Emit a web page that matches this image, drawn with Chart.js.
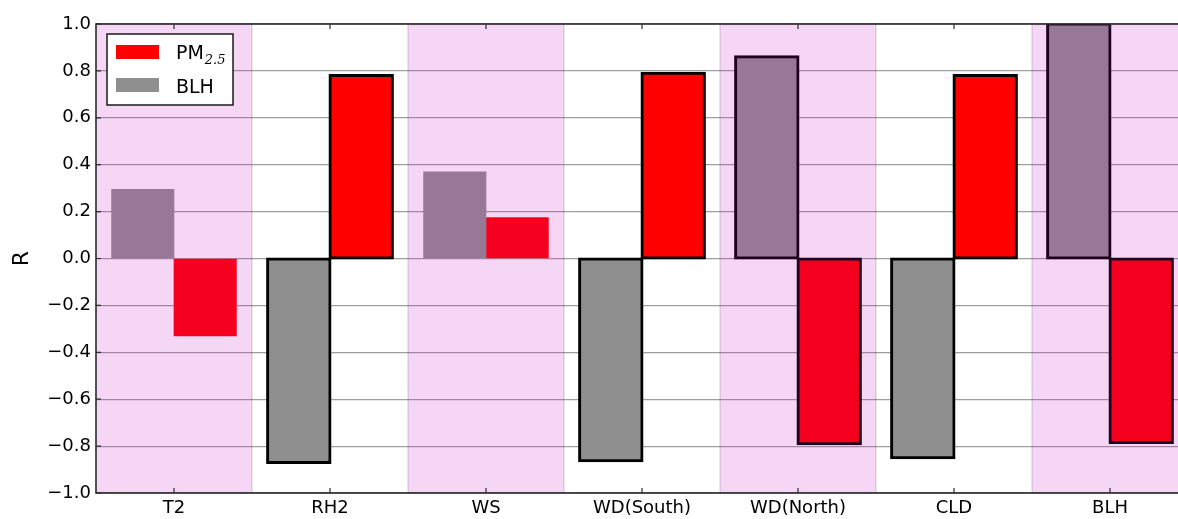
<!DOCTYPE html>
<html>
<head>
<meta charset="utf-8">
<script src="https://cdn.jsdelivr.net/npm/chart.js@4.4.1/dist/chart.umd.min.js"></script>
<style>
  html, body { margin: 0; padding: 0; background: #fff; overflow: hidden; }
  #wrap { width: 1188px; height: 519px; position: relative; }
</style>
</head>
<body>
<div id="wrap"><canvas id="chart"></canvas></div>
<script>
// Correlation coefficients (R) of each meteorological factor
const categories = ['T2', 'RH2', 'WS', 'WD(South)', 'WD(North)', 'CLD', 'BLH'];
const blhR = [0.295, -0.87, 0.37, -0.863, 0.86, -0.85, 1.0];
const pmR  = [-0.33, 0.78, 0.175, 0.79, -0.79, 0.78, -0.785];
const yTicks = [-1.0, -0.8, -0.6, -0.4, -0.2, 0.0, 0.2, 0.4, 0.6, 0.8, 1.0];

// Factors whose bars get a black outline, and factors with a shaded column
const outlined = ['RH2', 'WD(South)', 'WD(North)', 'CLD', 'BLH'];
const shaded = ['T2', 'WS', 'WD(North)', 'BLH'];

const FONT = 'DejaVu Sans';
const RED = '#ff0000';
const GREY = '#8f8f8f';

const isOutlined = ctx => outlined.includes(categories[ctx.dataIndex]);

function fmtTick(v) {
  const s = Math.abs(v).toFixed(1);
  return v < -1e-9 ? '\u2212' + s : s;
}

// Draws the shaded columns over the bars, the frame, inward ticks and the legend
const overlay = {
  id: 'overlay',
  afterDraw(chart) {
    const { ctx, chartArea: a, scales: { x, y } } = chart;
    const cw = (x.right - x.left) / categories.length;
    ctx.save();

    // translucent magenta columns
    ctx.fillStyle = 'rgba(200, 0, 190, 0.16)';
    categories.forEach((c, i) => {
      if (!shaded.includes(c)) return;
      const cx = x.getPixelForValue(i);
      ctx.fillRect(cx - cw / 2, a.top, cw, a.bottom - a.top);
    });
    // faint column edges
    ctx.strokeStyle = 'rgba(0, 0, 0, 0.13)';
    ctx.lineWidth = 1.5;
    for (let i = 1; i < categories.length; i++) {
      const ex = x.getPixelForValue(i) - cw / 2;
      ctx.beginPath();
      ctx.moveTo(ex, a.top);
      ctx.lineTo(ex, a.bottom);
      ctx.stroke();
    }

    // axes frame
    ctx.strokeStyle = '#2b2b2b';
    ctx.lineWidth = 1.6;
    ctx.strokeRect(a.left, a.top, a.right - a.left, a.bottom - a.top);

    // inward tick marks
    ctx.lineWidth = 1.2;
    categories.forEach((c, i) => {
      const px = x.getPixelForValue(i);
      ctx.beginPath();
      ctx.moveTo(px, a.top); ctx.lineTo(px, a.top + 5);
      ctx.moveTo(px, a.bottom); ctx.lineTo(px, a.bottom - 5);
      ctx.stroke();
    });
    yTicks.forEach(v => {
      const py = y.getPixelForValue(v);
      ctx.beginPath();
      ctx.moveTo(a.left, py); ctx.lineTo(a.left + 5, py);
      ctx.moveTo(a.right, py); ctx.lineTo(a.right - 5, py);
      ctx.stroke();
    });

    // legend
    const lx = a.left + 11, ly = a.top + 10, lw = 126, lh = 71;
    ctx.fillStyle = '#fff';
    ctx.fillRect(lx, ly, lw, lh);
    ctx.strokeStyle = '#1a1a1a';
    ctx.lineWidth = 1.5;
    ctx.strokeRect(lx, ly, lw, lh);

    ctx.fillStyle = RED;
    ctx.fillRect(lx + 9, ly + 11, 43, 14);
    ctx.fillStyle = GREY;
    ctx.fillRect(lx + 9, ly + 44, 43, 14);

    ctx.fillStyle = '#000';
    ctx.textBaseline = 'alphabetic';
    ctx.textAlign = 'left';
    ctx.font = `19px "${FONT}"`;
    ctx.fillText('PM', lx + 69, ly + 24.5);
    const pmW = ctx.measureText('PM').width;
    ctx.font = 'italic 13px "DejaVu Serif"';
    ctx.fillText('2.5', lx + 70 + pmW, ly + 29.5);
    ctx.font = `19px "${FONT}"`;
    ctx.fillText('BLH', lx + 69, ly + 58.5);

    ctx.restore();
  }
};

new Chart(document.getElementById('chart'), {
  type: 'bar',
  data: {
    labels: categories,
    datasets: [
      {
        label: 'BLH',
        data: blhR,
        backgroundColor: GREY,
        borderColor: '#000',
        borderWidth: ctx => isOutlined(ctx) ? 3 : 0,
        inflateAmount: ctx => isOutlined(ctx) ? 1.5 : 0.33,
        borderSkipped: false
      },
      {
        label: 'PM2.5',
        data: pmR,
        backgroundColor: RED,
        borderColor: '#000',
        borderWidth: ctx => isOutlined(ctx) ? 3 : 0,
        inflateAmount: ctx => isOutlined(ctx) ? 1.5 : 0.33,
        borderSkipped: false
      }
    ]
  },
  options: {
    responsive: true,
    maintainAspectRatio: false,
    animation: false,
    layout: { padding: { top: 24, left: 0, right: 0, bottom: 0 } },
    datasets: { bar: { categoryPercentage: 0.8, barPercentage: 1.0 } },
    plugins: { legend: { display: false }, tooltip: { enabled: false } },
    scales: {
      x: {
        grid: { display: false, drawTicks: false },
        border: { display: false },
        ticks: { color: '#000', font: { family: FONT, size: 18 }, padding: 5, maxRotation: 0, autoSkip: false },
        afterFit(s) { s.height = 26; }
      },
      y: {
        min: -1, max: 1,
        z: 1,
        afterBuildTicks(s) { s.ticks = yTicks.map(v => ({ value: v })); },
        grid: { color: 'rgba(0, 0, 0, 0.38)', lineWidth: 1.2, drawTicks: false },
        border: { display: false },
        ticks: { color: '#000', font: { family: FONT, size: 18 }, padding: 5, callback: v => fmtTick(v) },
        title: { display: true, text: 'R', color: '#000', font: { family: FONT, size: 22 }, padding: { top: 9, bottom: 0 } },
        afterFit(s) { s.width = 96; }
      }
    }
  },
  plugins: [overlay]
});
</script>
</body>
</html>
